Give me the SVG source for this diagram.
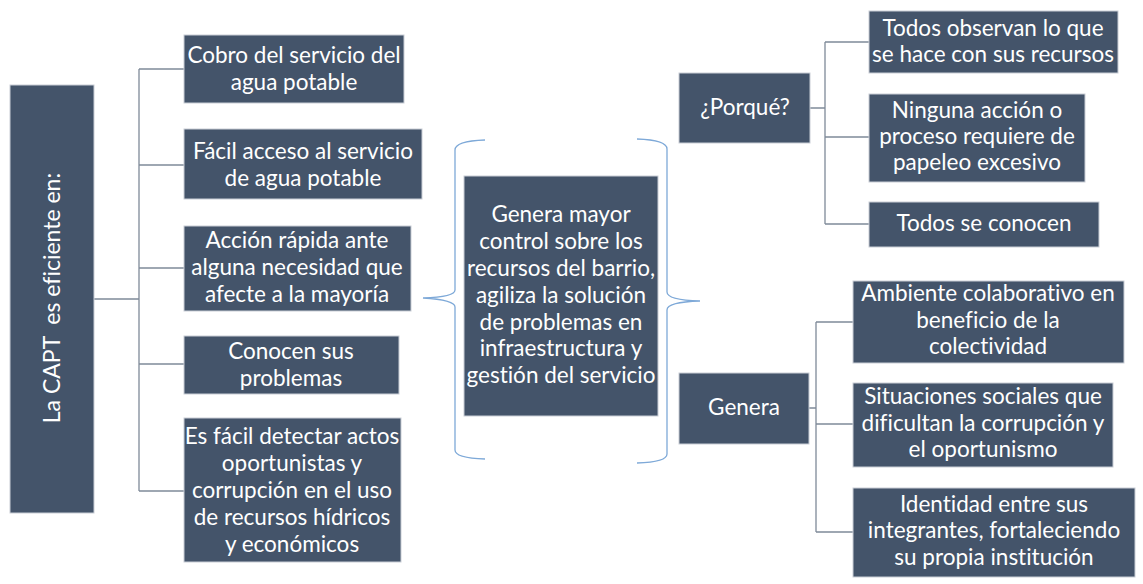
<svg xmlns="http://www.w3.org/2000/svg" width="1143" height="584" viewBox="0 0 1143 584">
<style>
.box{fill:#44546A;stroke:#C9CED6;stroke-width:1}
.t{font-family:Lato,"Liberation Sans",sans-serif;font-size:22.5px;fill:#FFFFFF;text-anchor:middle;font-variant-ligatures:none}
.c{fill:none;stroke:#7F8A99;stroke-width:1.3}
.br{fill:none;stroke:#7EA9D8;stroke-width:1.3}
</style>
<rect width="1143" height="584" fill="#FFFFFF"/>
<g id="connectors">
<path class="c" d="M94 299H139M139 69V491M139 69H184M139 165H184M139 268H184M139 364H184M139 491H184"/>
<path class="c" d="M810 108H825M825 42V224M825 42H869M825 137H869M825 224H869"/>
<path class="c" d="M809 408H816M816 322V532M816 322H853M816 424H853M816 532H853"/>
<path class="br" d="M485 140Q455 141 455 150V290Q455 297 423 298Q455 300 455 307V450Q455 458 485 459"/>
<path class="br" d="M637 139Q667 140 667 149V292Q667 300 700 301Q667 302 667 310V454Q667 462 637 463"/>
</g>
<g id="root">
<rect class="box" x="10" y="85" width="84" height="428"/>
<text class="t" xml:space="preserve" style="font-size:23px" transform="translate(60,298) rotate(-90)">La CAPT  es eficiente en:</text>
</g>
<g id="n1">
<rect class="box" x="184" y="35" width="220" height="68"/>
<text class="t" x="294" y="63">Cobro del servicio del</text>
<text class="t" x="294" y="90">agua potable</text>
</g>
<g id="n2">
<rect class="box" x="184" y="129" width="238" height="70"/>
<text class="t" x="303" y="159">Fácil acceso al servicio</text>
<text class="t" x="303" y="186">de agua potable</text>
</g>
<g id="n3">
<rect class="box" x="184" y="226" width="227" height="85"/>
<text class="t" x="297" y="248">Acción rápida ante</text>
<text class="t" x="297" y="275">alguna necesidad que</text>
<text class="t" x="297" y="302">afecte a la mayoría</text>
</g>
<g id="n4">
<rect class="box" x="184" y="336" width="215" height="58"/>
<text class="t" x="291" y="359">Conocen sus</text>
<text class="t" x="291" y="386">problemas</text>
</g>
<g id="n5">
<rect class="box" x="184" y="418" width="217" height="144"/>
<text class="t" x="292" y="444">Es fácil detectar actos</text>
<text class="t" x="292" y="471">oportunistas y</text>
<text class="t" x="292" y="498">corrupción en el uso</text>
<text class="t" x="292" y="525">de recursos hídricos</text>
<text class="t" x="292" y="552">y económicos</text>
</g>
<g id="center">
<rect class="box" x="464" y="176" width="194" height="240"/>
<text class="t" x="561" y="222">Genera mayor</text>
<text class="t" x="561" y="249">control sobre los</text>
<text class="t" x="561" y="276">recursos del barrio,</text>
<text class="t" x="561" y="303">agiliza la solución</text>
<text class="t" x="561" y="330">de problemas en</text>
<text class="t" x="561" y="356">infraestructura y</text>
<text class="t" x="561" y="383">gestión del servicio</text>
</g>
<g id="porque">
<rect class="box" x="679" y="73" width="131" height="70"/>
<text class="t" x="745" y="115">¿Porqué?</text>
</g>
<g id="p1">
<rect class="box" x="869" y="11" width="249" height="62"/>
<text class="t" x="993" y="36">Todos observan lo que</text>
<text class="t" x="993" y="62">se hace con sus recursos</text>
</g>
<g id="p2">
<rect class="box" x="869" y="94" width="216" height="88"/>
<text class="t" x="977" y="118">Ninguna acción o</text>
<text class="t" x="977" y="144">proceso requiere de</text>
<text class="t" x="977" y="170">papeleo excesivo</text>
</g>
<g id="p3">
<rect class="box" x="869" y="202" width="230" height="45"/>
<text class="t" x="984" y="231">Todos se conocen</text>
</g>
<g id="genera">
<rect class="box" x="679" y="373" width="130" height="71"/>
<text class="t" x="744" y="415">Genera</text>
</g>
<g id="g1">
<rect class="box" x="853" y="281" width="271" height="82"/>
<text class="t" x="988" y="301">Ambiente colaborativo en</text>
<text class="t" x="988" y="328">beneficio de la</text>
<text class="t" x="988" y="354">colectividad</text>
</g>
<g id="g2">
<rect class="box" x="853" y="383" width="260" height="84"/>
<text class="t" x="983" y="404">Situaciones sociales que</text>
<text class="t" x="983" y="431">dificultan la corrupción y</text>
<text class="t" x="983" y="457">el oportunismo</text>
</g>
<g id="g3">
<rect class="box" x="853" y="488" width="282" height="89"/>
<text class="t" x="994" y="512">Identidad entre sus</text>
<text class="t" x="994" y="538">integrantes, fortaleciendo</text>
<text class="t" x="994" y="565">su propia institución</text>
</g>
</svg>
